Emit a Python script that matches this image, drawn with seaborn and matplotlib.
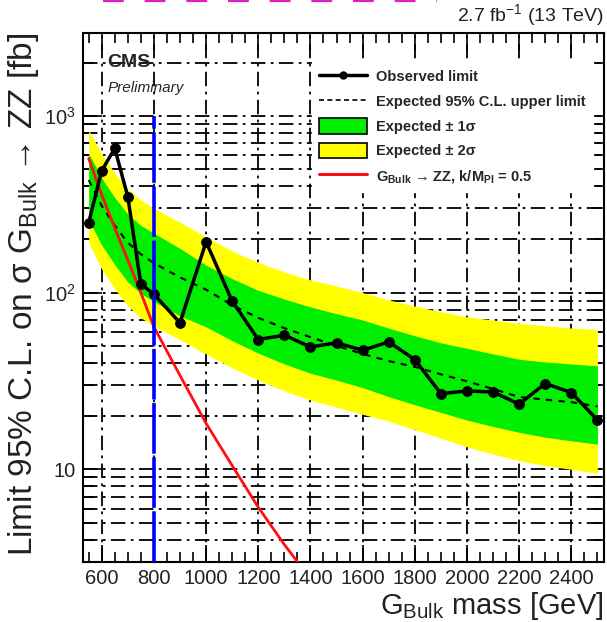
import numpy as np
import pandas as pd
import seaborn as sns
import matplotlib
matplotlib.use("Agg")
import matplotlib.pyplot as plt
from matplotlib.lines import Line2D
from matplotlib.patches import Patch
from matplotlib.ticker import FixedLocator, FixedFormatter, NullFormatter

# ---------------- data ----------------
mass = [550, 600, 650, 700, 750, 800, 900, 1000, 1100, 1200, 1300, 1400, 1500,
        1600, 1700, 1800, 1900, 2000, 2100, 2200, 2300, 2400, 2500]
observed = [249, 490, 656, 349, 112, 98, 67.5, 194, 89.6, 54.3, 57.4, 49.3, 52,
            47.2, 52.6, 41.8, 26.8, 27.8, 27.4, 23.4, 30.6, 27.2, 19]
expected = [434, 310, 240, 192, 165, 147, 122, 104, 85, 72, 63, 56, 50,
            45, 41, 38, 34.5, 31.5, 28.5, 25.7, 24.8, 24, 22.7]
exp_up1 = [615, 445, 345, 278, 240, 217, 178, 143, 120, 103, 92, 83, 76,
           70, 63, 57, 52, 48.4, 45, 42, 40.5, 39.5, 38.5]
exp_dn1 = [258, 186, 144, 115, 99, 89, 74, 64, 53.5, 45.5, 39.5, 35, 32,
           29, 25.8, 23.2, 21, 19, 17.5, 16.2, 15.2, 14.5, 13.9]
exp_up2 = [833, 610, 475, 385, 335, 300, 250, 207, 172, 148, 131, 118, 109,
           100, 91, 84, 78, 73, 70, 67, 65, 63, 62]
exp_dn2 = [191, 136, 105, 84, 72, 65, 54, 45, 37.5, 32, 27.8, 24.7, 22.5,
           20.5, 18.7, 16.8, 15, 13.4, 12.2, 11.2, 10.5, 10, 9.5]

theory_mass = [550, 600, 650, 700, 750, 800, 900, 1000, 1100, 1200, 1300, 1400]
theory_xs = [575, 357, 232, 153, 100, 64, 34, 18.2, 10.5, 6.1, 3.75, 2.4]

excl_mass = [800, 800]
excl_y = [3, 1000]

x_ticks = [600, 800, 1000, 1200, 1400, 1600, 1800, 2000, 2200, 2400]
y_major = [10, 100, 1000]
y_major_labels = ["10", "$10^{2}$", "$10^{3}$"]

legend_labels = ["Observed limit", "Expected 95% C.L. upper limit",
                 "Expected ± 1σ", "Expected ± 2σ",
                 "G$_{\\mathbf{Bulk}}$ → ZZ, k/M$_{\\mathbf{Pl}}$ = 0.5"]

# ---------------- style ----------------
sns.set_theme(style="ticks")
plt.rcParams["font.family"] = ["Liberation Sans", "DejaVu Sans"]
plt.rcParams["mathtext.fontset"] = "custom"
plt.rcParams["mathtext.rm"] = "Liberation Sans"
plt.rcParams["mathtext.it"] = "Liberation Sans:italic"
plt.rcParams["mathtext.bf"] = "Liberation Sans:bold"
plt.rcParams["mathtext.sf"] = "Liberation Sans"

fig = plt.figure(figsize=(6.07, 6.22), dpi=100)
ax = fig.add_axes([0.1362, 0.0969, 0.8588, 0.8501])

df = pd.DataFrame({"mass": mass, "observed": observed, "expected": expected,
                   "up1": exp_up1, "dn1": exp_dn1, "up2": exp_up2, "dn2": exp_dn2})
th = pd.DataFrame({"mass": theory_mass, "xs": theory_xs})

ax.fill_between(df["mass"], df["dn2"], df["up2"], color="#ffff00", lw=0, zorder=2)
ax.fill_between(df["mass"], df["dn1"], df["up1"], color="#00ee00", lw=0, zorder=3)
sns.lineplot(data=df, x="mass", y="expected", ax=ax, color="black", lw=1.5,
             linestyle=(0, (3, 3)), zorder=4, legend=False)
sns.lineplot(data=th, x="mass", y="xs", ax=ax, color="#ff1010", lw=2, zorder=5,
             legend=False)
sns.lineplot(data=df, x="mass", y="observed", ax=ax, color="black", lw=2.5,
             marker="o", markersize=7, markeredgecolor="black", zorder=6,
             legend=False)
ax.plot(excl_mass, excl_y, color="#0000ff", lw=2.6, linestyle=(0, (14, 1.0)),
        zorder=7)

ax.set_yscale("log")
ax.set_xlim(527, 2525)
ax.set_ylim(3.0, 2950)

# ticks
ax.xaxis.set_major_locator(FixedLocator(x_ticks))
ax.xaxis.set_minor_locator(matplotlib.ticker.MultipleLocator(50))
ax.yaxis.set_major_locator(FixedLocator(y_major))
ax.yaxis.set_major_formatter(FixedFormatter(y_major_labels))
ax.yaxis.set_minor_locator(matplotlib.ticker.LogLocator(base=10, subs=np.arange(2, 10)))
ax.yaxis.set_minor_formatter(NullFormatter())
ax.tick_params(which="both", direction="in", top=True, right=True, color="black",
               width=1.2, labelsize=14.5, pad=5, labelcolor="#222222")
ax.tick_params(axis="x", which="major", length=12)
ax.tick_params(axis="x", which="minor", length=7)
ax.tick_params(axis="y", which="major", length=14)
ax.tick_params(axis="y", which="minor", length=8)

ax.grid(True, which="major", axis="x", color="black", lw=1.3, linestyle=(0, (8, 3, 1.5, 3)), zorder=1)
ax.grid(True, which="both", axis="y", color="black", lw=1.3, linestyle=(0, (8, 3, 1.5, 3)), zorder=1)
ax.set_axisbelow(True)
for s in ax.spines.values():
    s.set_linewidth(1.5)
    s.set_color("black")

ax.set_xlabel("G$_{\\mathrm{Bulk}}$ mass [GeV]", fontsize=21, loc="right", labelpad=2,
              color="#222222")
ax.set_ylabel("Limit 95% C.L. on σ G$_{\\mathrm{Bulk}}$ → ZZ [fb]",
              fontsize=24, loc="top", labelpad=2, color="#222222")

# texts
ax.text(0.048, 0.96, "CMS", transform=ax.transAxes, fontsize=14, fontweight="bold",
        va="top", ha="left")
ax.text(0.048, 0.91, "Preliminary", transform=ax.transAxes, fontsize=11,
        fontstyle="italic", va="top", ha="left")
fig.text(0.996, 0.955, "2.7 fb$^{-1}$ (13 TeV)", fontsize=14, ha="right", va="bottom",
         color="#222222")

# legend
handles = [
    Line2D([], [], color="black", lw=2.5, marker="o", markersize=5),
    Line2D([], [], color="black", lw=1.2, linestyle=(0, (3, 2))),
    Patch(facecolor="#00ee00", edgecolor="black", lw=1.2),
    Patch(facecolor="#ffff00", edgecolor="black", lw=1.2),
    Line2D([], [], color="#ff1010", lw=2.2),
]
leg = ax.legend(handles, legend_labels, loc="upper left", bbox_to_anchor=(0.44, 0.946),
                borderaxespad=0, frameon=True, fancybox=False, framealpha=1,
                facecolor="white", edgecolor="white", prop={"size": 10.5, "weight": "bold"},
                handlelength=3.3, handleheight=1.25, handletextpad=0.6,
                labelspacing=0.62, borderpad=0.5)
leg.set_zorder(10)

# magenta fragment at the very top edge
fig.add_artist(Line2D([0.17, 0.72], [1.0, 1.0], transform=fig.transFigure,
                      color="#e020c0", lw=3, linestyle=(0, (5, 5))))

fig.savefig("out.png", dpi=100)
